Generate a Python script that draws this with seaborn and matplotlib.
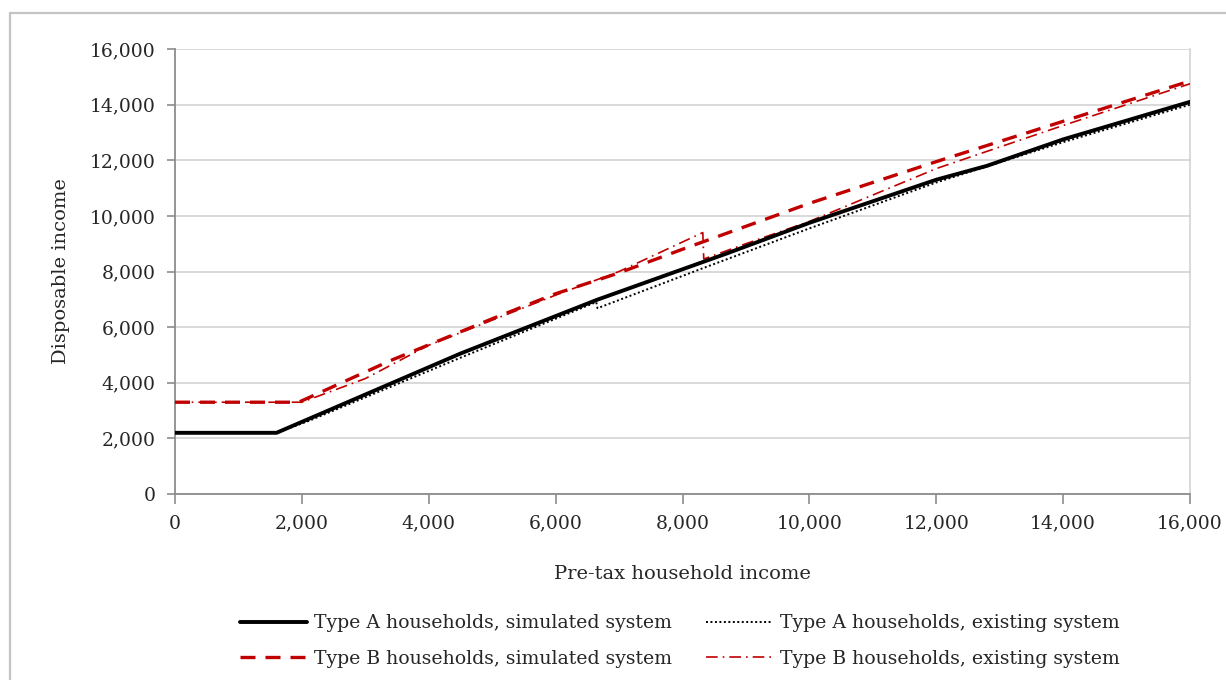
import matplotlib
matplotlib.use("Agg")
import matplotlib.pyplot as plt
from matplotlib.lines import Line2D
from matplotlib.ticker import FuncFormatter, MultipleLocator
import seaborn as sns
import pandas as pd

# --- data ---
a_sim_x = [0, 1600, 4500, 6650, 8700, 10000, 12000, 12800, 14000, 16000]
a_sim_y = [2200, 2200, 5050, 6980, 8650, 9750, 11300, 11800, 12750, 14100]

a_ex_x = [0, 1600, 2100, 4500, 6640, 6660, 8300, 10000, 12000, 14000, 16000]
a_ex_y = [2200, 2200, 2620, 4900, 6900, 6680, 8100, 9550, 11200, 12650, 14000]

b_sim_x = [0, 1950, 3400, 5000, 6000, 7000, 8000, 10000, 12000, 14000, 16000]
b_sim_y = [3300, 3300, 4800, 6300, 7200, 7950, 8800, 10450, 11950, 13400, 14850]

b_ex_x = [0, 2000, 3000, 4000, 5000, 6000, 7000, 8320, 8335, 9000, 10000, 12000, 14000, 16000]
b_ex_y = [3300, 3300, 4150, 5350, 6250, 7150, 8000, 9400, 8450, 9000, 9800, 11700, 13250, 14750]

labels = ["Type A households, simulated system",
          "Type A households, existing system",
          "Type B households, simulated system",
          "Type B households, existing system"]

x_label = "Pre-tax household income"
y_label = "Disposable income"

sns.set_theme(style="white")
plt.rcParams['font.family'] = ['DejaVu Serif', 'Liberation Serif']

fig = plt.figure(figsize=(12.26, 6.80), dpi=100)
ax = fig.add_axes([175/1226, 1-494/680, (1190-175)/1226, (494-49)/680])

red = "#C00000"
styles = [
    dict(color="black", lw=2.8, ls="-"),
    dict(color="black", lw=1.4, ls=(0, (1, 1.3))),
    dict(color=red, lw=2.4, ls=(0, (4.5, 3))),
    dict(color=red, lw=1.2, ls=(0, (7, 3, 1, 3))),
]
series = [(a_sim_x, a_sim_y), (a_ex_x, a_ex_y), (b_sim_x, b_sim_y), (b_ex_x, b_ex_y)]
order = [3, 2, 1, 0]
for i in order:
    xs, ys = series[i]
    df = pd.DataFrame({"x": xs, "y": ys})
    sns.lineplot(data=df, x="x", y="y", ax=ax, sort=False, estimator=None,
                 color=styles[i]["color"], linewidth=styles[i]["lw"],
                 linestyle=styles[i]["ls"], label=None, legend=False, zorder=3 + (3 - i))

ax.set_xlim(0, 16000)
ax.set_ylim(0, 16000)
ax.xaxis.set_major_locator(MultipleLocator(2000))
ax.yaxis.set_major_locator(MultipleLocator(2000))
fmt = FuncFormatter(lambda v, p: f"{int(v):,}")
ax.xaxis.set_major_formatter(fmt)
ax.yaxis.set_major_formatter(fmt)
ax.grid(axis="y", color="#d0d0d0", lw=1.1)
ax.grid(axis="x", visible=False)
ax.set_axisbelow(True)
for s in ["left", "bottom"]:
    ax.spines[s].set_color("#8c8c8c")
    ax.spines[s].set_linewidth(1.3)
ax.spines["top"].set_visible(False)
ax.spines["right"].set_color("#d0d0d0")
ax.spines["right"].set_linewidth(1.1)
ax.tick_params(axis="x", direction="out", length=7, width=1.2, color="#8c8c8c",
               labelsize=13.5, pad=8, bottom=True)
ax.tick_params(axis="y", direction="out", length=6, width=1.2, color="#8c8c8c",
               labelsize=13.5, pad=8, left=True)
ax.set_xlabel(x_label, fontsize=14, labelpad=23)
ax.set_ylabel(y_label, fontsize=14, labelpad=14)

handles = [Line2D([], [], color=st["color"], lw=st["lw"], ls=st["ls"]) for st in styles]
leg_order = [0, 2, 1, 3]
fig.legend([handles[i] for i in leg_order], [labels[i] for i in leg_order],
           ncol=2, loc="center", bbox_to_anchor=(680/1226, 1-641/680),
           frameon=False, fontsize=13.6, handlelength=3.5, handletextpad=0.4,
           columnspacing=1.8, labelspacing=0.9)

# figure frame (partially visible in the reference)
fig.add_artist(Line2D([10/1226, 10/1226], [0, 1-13/680], color="#c4c4c4", lw=1.6,
                      transform=fig.transFigure))
fig.add_artist(Line2D([10/1226, 1], [1-13/680, 1-13/680], color="#c4c4c4", lw=1.6,
                      transform=fig.transFigure))

fig.savefig("out.png", dpi=100)
